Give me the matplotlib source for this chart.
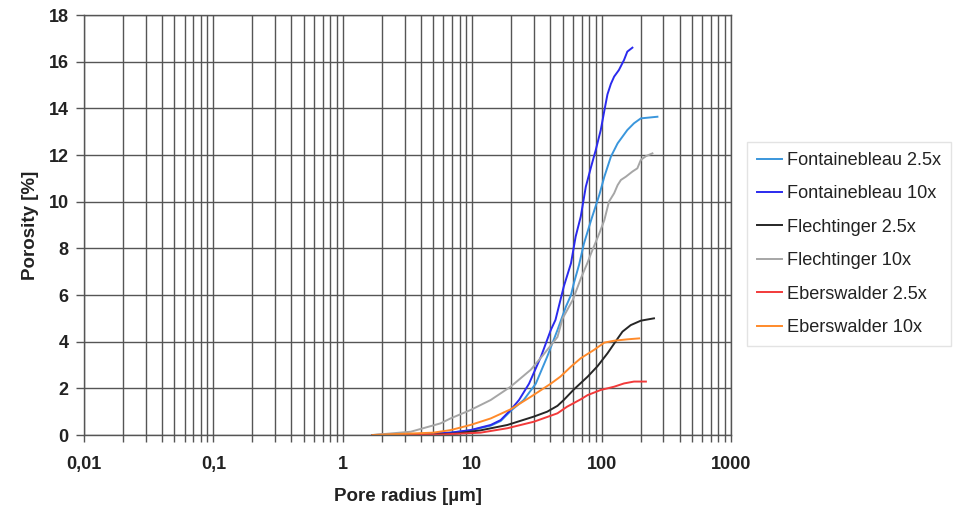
import matplotlib
matplotlib.use("Agg")
import matplotlib.pyplot as plt
from matplotlib.ticker import FixedLocator, FixedFormatter, LogLocator, NullFormatter

plt.rcParams['font.family'] = ['Liberation Sans', 'DejaVu Sans']

# Data (pore radius in µm, porosity in %)
fb25_x = [1.7, 3, 5, 6.8, 9.7, 13.9, 16.6, 20, 25, 31, 38, 45.6, 53, 58, 61, 67, 73, 83, 96, 105, 118, 133, 158, 178, 201, 270]
fb25_y = [0, 0.02, 0.06, 0.1, 0.2, 0.4, 0.6, 1.05, 1.5, 2.2, 3.36, 4.5, 5.5, 6.0, 6.5, 7.3, 8.2, 9.21, 10.29, 11.07, 11.93, 12.5, 13.07, 13.36, 13.57, 13.64]

fb10_x = [1.7, 3, 5, 6.8, 9.7, 13.9, 16.6, 20, 23, 27.5, 34, 40.5, 44, 51, 58, 63, 69, 75.5, 83, 90, 98.5, 105, 111, 118, 125, 136, 149, 158, 173]
fb10_y = [0, 0.02, 0.06, 0.1, 0.21, 0.43, 0.64, 1.1, 1.5, 2.2, 3.36, 4.5, 4.93, 6.36, 7.36, 8.5, 9.36, 10.64, 11.5, 12.2, 13.07, 13.9, 14.6, 15.05, 15.36, 15.64, 16.07, 16.43, 16.6]

fl25_x = [1.7, 5, 7.7, 11.6, 18.7, 30, 38, 45.6, 51, 61, 78, 93, 111, 128, 145, 168, 201, 254]
fl25_y = [0, 0.02, 0.07, 0.2, 0.43, 0.79, 1.0, 1.25, 1.5, 1.95, 2.5, 2.95, 3.5, 4.0, 4.43, 4.71, 4.9, 5.0]

fl10_x = [1.7, 3.35, 5.7, 6.8, 9.7, 13.9, 19.8, 28.4, 35, 45.6, 50, 60, 69, 78, 83, 96, 105, 114, 125, 133, 141, 154, 173, 189, 201, 220, 247]
fl10_y = [0, 0.14, 0.5, 0.71, 1.07, 1.5, 2.07, 2.8, 3.4, 4.2, 5.0, 5.8, 6.7, 7.4, 7.79, 8.64, 9.21, 10.0, 10.36, 10.71, 10.93, 11.07, 11.29, 11.43, 11.79, 11.95, 12.07]

eb25_x = [1.7, 5.7, 11.6, 18.7, 30, 45.6, 54, 69, 78, 98.5, 125, 149, 178, 220]
eb25_y = [0, 0.02, 0.1, 0.29, 0.57, 0.93, 1.21, 1.53, 1.71, 1.93, 2.07, 2.21, 2.29, 2.29]

eb10_x = [1.7, 5, 6.8, 9.7, 13.9, 19.8, 28.4, 40.5, 48, 58, 69, 87, 105, 125, 158, 195]
eb10_y = [0, 0.1, 0.21, 0.43, 0.71, 1.1, 1.64, 2.2, 2.5, 2.93, 3.29, 3.64, 3.96, 4.04, 4.1, 4.14]

series = [
    ("Fontainebleau 2.5x", fb25_x, fb25_y, "#3a96dc"),
    ("Fontainebleau 10x", fb10_x, fb10_y, "#2a2aee"),
    ("Flechtinger 2.5x", fl25_x, fl25_y, "#262626"),
    ("Flechtinger 10x", fl10_x, fl10_y, "#a6a6a6"),
    ("Eberswalder 2.5x", eb25_x, eb25_y, "#f23a3a"),
    ("Eberswalder 10x", eb10_x, eb10_y, "#ff8a2a"),
]

xticks = [0.01, 0.1, 1, 10, 100, 1000]
xtick_labels = ["0,01", "0,1", "1", "10", "100", "1000"]
yticks = [0, 2, 4, 6, 8, 10, 12, 14, 16, 18]

fig = plt.figure(figsize=(9.62, 5.09), dpi=100)
ax = fig.add_axes([84/962, 74/509, (731-84)/962, (435-15)/509])

for name, xs, ys, c in series:
    ax.plot(xs, ys, color=c, lw=1.4, label=name)

ax.set_xscale('log')
ax.set_xlim(0.01, 1000)
ax.set_ylim(0, 18)
ax.xaxis.set_major_locator(FixedLocator(xticks))
ax.xaxis.set_major_formatter(FixedFormatter(xtick_labels))
ax.xaxis.set_minor_locator(LogLocator(base=10, subs=range(2, 10), numticks=20))
ax.xaxis.set_minor_formatter(NullFormatter())
ax.set_yticks(yticks)

gridc = "#555555"
ax.grid(True, which='major', axis='both', color=gridc, lw=1.0)
ax.grid(True, which='minor', axis='x', color=gridc, lw=1.0)
ax.set_axisbelow(True)
for s in ax.spines.values():
    s.set_color(gridc)
    s.set_linewidth(1.0)

ax.tick_params(axis='both', which='both', direction='out', color=gridc, width=1.0)
ax.tick_params(axis='x', which='major', length=5, pad=10)
ax.tick_params(axis='x', which='minor', length=5)
ax.tick_params(axis='y', which='major', length=6, pad=5)
for lab in ax.get_xticklabels() + ax.get_yticklabels():
    lab.set_fontsize(13)
    lab.set_fontweight('bold')
    lab.set_color('#222222')

ax.set_xlabel("Pore radius [µm]", fontsize=13.5, fontweight='bold', color='#222222', labelpad=11)
ax.set_ylabel("Porosity [%]", fontsize=13.5, fontweight='bold', color='#222222', labelpad=7)

leg = fig.legend(loc='upper left', bbox_to_anchor=(747/962, (509-142)/509),
                 fontsize=13.1, frameon=True, fancybox=False, edgecolor='#dcdcdc',
                 handlelength=1.35, handletextpad=0.3, labelspacing=0.9,
                 borderpad=0.55, borderaxespad=0)
leg.get_frame().set_linewidth(1.0)
for t in leg.get_texts():
    t.set_color('#222222')

fig.savefig("out.png", dpi=100)
